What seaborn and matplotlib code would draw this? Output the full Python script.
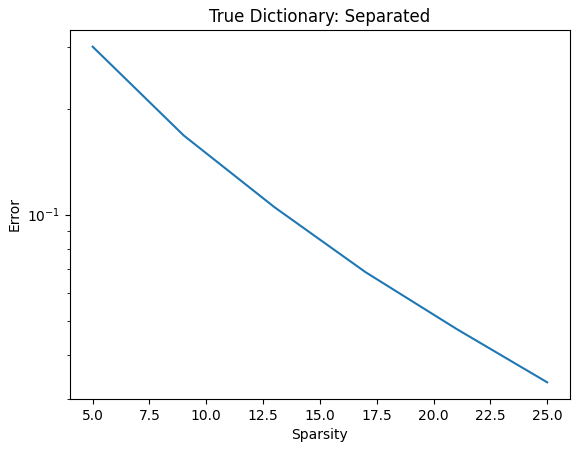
import matplotlib
matplotlib.use("Agg")
import matplotlib.pyplot as plt
import seaborn as sns

sparsity = [5, 9, 13, 17, 21, 25]
error = [0.300, 0.168, 0.105, 0.0687, 0.0474, 0.0334]

fig, ax = plt.subplots(figsize=(5.78, 4.53), dpi=100)
sns.lineplot(x=sparsity, y=error, ax=ax)
ax.set_yscale("log")
ax.set_title("True Dictionary: Separated")
ax.set_xlabel("Sparsity")
ax.set_ylabel("Error")
fig.subplots_adjust(left=0.121, right=0.986, top=0.934, bottom=0.119)
fig.savefig("out.png")
